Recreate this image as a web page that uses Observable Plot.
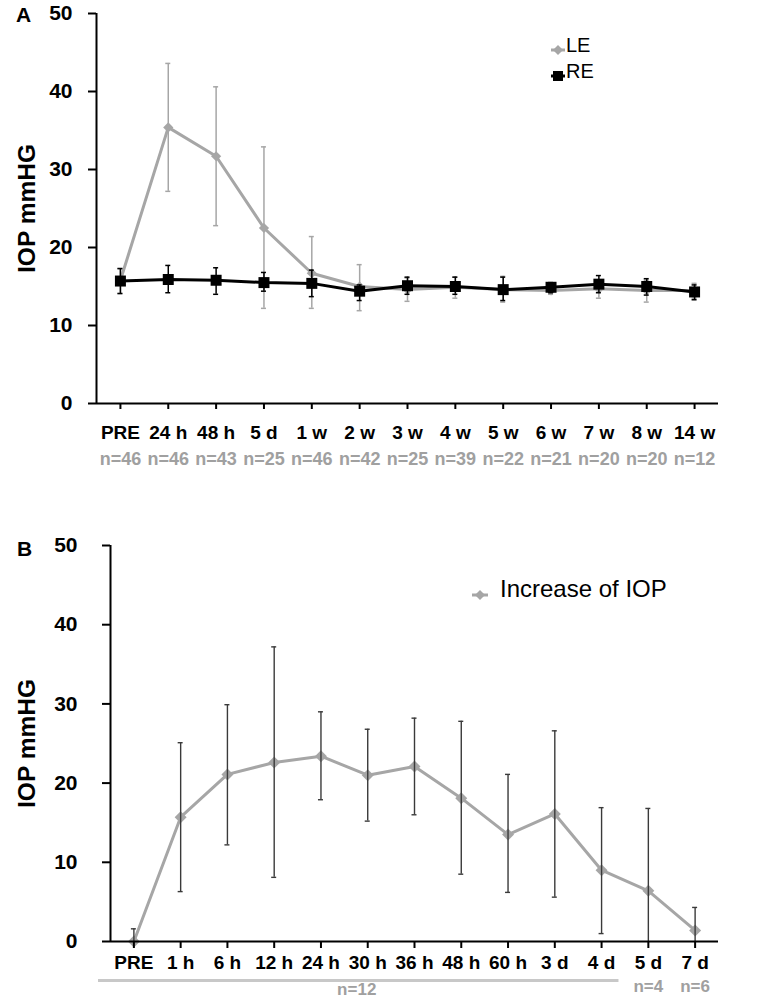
<!DOCTYPE html>
<html><head><meta charset="utf-8">
<script src="https://cdn.jsdelivr.net/npm/d3@7"></script>
<script src="https://cdn.jsdelivr.net/npm/@observablehq/plot@0.6"></script>
<style>
body{margin:0;background:#fff;font-family:"Liberation Sans",Arial,sans-serif;}
#wrap{position:relative;width:764px;height:1006px;overflow:hidden;}
.abs{position:absolute;}
.abs svg{overflow:visible;}
.letter{font-weight:bold;font-size:21px;line-height:1;color:#000;}
.leg{font-size:20px;line-height:1;color:#000;white-space:nowrap;}
</style></head><body><div id="wrap"></div>
<script>
// ---------- Panel A data ----------
const catsA = ["PRE","24 h","48 h","5 d","1 w","2 w","3 w","4 w","5 w","6 w","7 w","8 w","14 w"];
const nA    = ["n=46","n=46","n=43","n=25","n=46","n=42","n=25","n=39","n=22","n=21","n=20","n=20","n=12"];
const leMean = [15.8, 35.4, 31.7, 22.5, 16.7, 15.0, 14.6, 14.9, 14.6, 14.5, 14.7, 14.5, 14.5];
const leLow  = [14.1, 27.2, 22.8, 12.2, 12.2, 11.9, 13.1, 13.5, 13.0, 14.0, 13.5, 13.0, 13.5];
const leHigh = [17.3, 43.6, 40.6, 32.9, 21.4, 17.8, 16.1, 16.2, 16.3, 15.3, 15.8, 15.8, 15.4];
const reMean = [15.7, 15.9, 15.8, 15.5, 15.4, 14.4, 15.1, 15.0, 14.6, 14.9, 15.3, 15.0, 14.3];
const reLow  = [14.1, 14.2, 14.0, 14.4, 13.7, 13.2, 14.0, 14.0, 13.2, 14.2, 14.2, 13.9, 13.3];
const reHigh = [17.3, 17.7, 17.4, 16.8, 17.1, 15.2, 16.2, 16.2, 16.2, 15.5, 16.4, 16.0, 15.2];

// ---------- Panel B data ----------
const catsB = ["PRE","1 h","6 h","12 h","24 h","30 h","36 h","48 h","60 h","3 d","4 d","5 d","7 d"];
const incMean = [0, 15.7, 21.1, 22.6, 23.4, 21.0, 22.1, 18.1, 13.5, 16.1, 9.0, 6.4, 1.4];
const incLow  = [0, 6.3, 12.2, 8.1, 17.9, 15.2, 16.0, 8.5, 6.2, 5.6, 1.0, 0, 0];
const incHigh = [1.6, 25.1, 29.9, 37.2, 29.0, 26.8, 28.2, 27.8, 21.1, 26.6, 16.9, 16.8, 4.3];
const nGroupsB = [{from:"PRE", to:"4 d", label:"n=12", at:"30 h"}];
const nSingleB = [{cat:"5 d", label:"n=4"}, {cat:"7 d", label:"n=6"}];
const yTicks = [0,10,20,30,40,50];

const FONT = '"Liberation Sans", Arial, sans-serif';
const GRAY = "#a6a6a6";
const wrap = document.getElementById("wrap");

function place(node, left, top) {
  const d = document.createElement("div");
  d.className = "abs"; d.style.left = left + "px"; d.style.top = top + "px";
  d.appendChild(node); wrap.appendChild(d); return d;
}
function html(str, left, top, cls) {
  const d = document.createElement("div");
  d.className = "abs " + cls; d.style.left = left + "px"; d.style.top = top + "px";
  d.innerHTML = str; wrap.appendChild(d); return d;
}

// ---------- Panel A ----------
const dataA = catsA.map((c,i)=>({cat:c, n:nA[i], le:leMean[i], leLo:leLow[i], leHi:leHigh[i], re:reMean[i], reLo:reLow[i], reHi:reHigh[i]}));
const nMapA = new Map(catsA.map((c,i)=>[c,nA[i]]));
const mLA = 96, mRA = 46, WA = 764;
const bwA = (WA - mLA - mRA) / catsA.length;
const capInsA = (bwA - 5) / 2;

const plotA = Plot.plot({
  width: WA, height: 480, marginTop: 13, marginBottom: 77, marginLeft: mLA, marginRight: mRA,
  style: {fontFamily: FONT, color: "#000", background: "transparent", overflow: "visible"},
  x: {type: "band", domain: catsA, padding: 0, round: false, axis: null},
  y: {domain: [0, 50], axis: null},
  marks: [
    Plot.ruleX(dataA, {x: "cat", y1: "leLo", y2: "leHi", stroke: GRAY, strokeWidth: 1.5}),
    Plot.tickY(dataA, {x: "cat", y: "leLo", stroke: GRAY, strokeWidth: 1.5, insetLeft: capInsA, insetRight: capInsA}),
    Plot.tickY(dataA, {x: "cat", y: "leHi", stroke: GRAY, strokeWidth: 1.5, insetLeft: capInsA, insetRight: capInsA}),
    Plot.line(dataA, {x: "cat", y: "le", stroke: GRAY, strokeWidth: 3}),
    Plot.dot(dataA, {x: "cat", y: "le", symbol: "diamond2", r: 4.6, fill: GRAY, stroke: "none"}),
    Plot.ruleX(dataA, {x: "cat", y1: "reLo", y2: "reHi", stroke: "#000", strokeWidth: 1.5}),
    Plot.tickY(dataA, {x: "cat", y: "reLo", stroke: "#000", strokeWidth: 1.5, insetLeft: capInsA, insetRight: capInsA}),
    Plot.tickY(dataA, {x: "cat", y: "reHi", stroke: "#000", strokeWidth: 1.5, insetLeft: capInsA, insetRight: capInsA}),
    Plot.line(dataA, {x: "cat", y: "re", stroke: "#000", strokeWidth: 3}),
    Plot.dot(dataA, {x: "cat", y: "re", symbol: "square", r: 6.2, fill: "#000", stroke: "none"}),
    Plot.axisY({ticks: yTicks, tickSize: 8, tickPadding: 16, fontSize: 21, fontWeight: "bold", strokeWidth: 2, label: null}),
    Plot.axisX({tickSize: 6, tickPadding: 16, fontSize: 19, fontWeight: "bold", strokeWidth: 2, label: null}),
    Plot.axisX({tickSize: 0, tickPadding: 49, tickFormat: d => nMapA.get(d), fontSize: 18, fontWeight: "bold", fill: "#a0a0a0", label: null}),
    Plot.ruleY([0], {strokeWidth: 2}),
    Plot.ruleX([catsA[0]], {y1: 0, y2: 50, dx: -bwA / 2, strokeWidth: 2}),
    Plot.text(["IOP mmHG"], {frameAnchor: "left", textAnchor: "middle", lineAnchor: "middle", rotate: -90, dx: -69, fontSize: 24.5, fontWeight: "bold", fill: "#000"})
  ]
});
place(plotA, 0, 0);

// ---------- Panel B ----------
const dataB = catsB.map((c,i)=>({cat:c, m:incMean[i], lo:incLow[i], hi:incHigh[i]}));
const mLB = 110, mRB = 46, WB = 764;
const bwB = (WB - mLB - mRB) / catsB.length;
const capInsB = (bwB - 5) / 2;
const ERR = "#3a3a3a";

const plotB = Plot.plot({
  width: WB, height: 516, marginTop: 55, marginBottom: 65, marginLeft: mLB, marginRight: mRB,
  style: {fontFamily: FONT, color: "#000", background: "transparent", overflow: "visible"},
  x: {type: "band", domain: catsB, padding: 0, round: false, axis: null},
  y: {domain: [0, 50], axis: null},
  marks: [
    Plot.line(dataB, {x: "cat", y: "m", stroke: GRAY, strokeWidth: 3}),
    Plot.dot(dataB, {x: "cat", y: "m", symbol: "diamond2", r: 5.4, fill: GRAY, stroke: "none"}),
    Plot.ruleX(dataB, {x: "cat", y1: "lo", y2: "hi", stroke: ERR, strokeWidth: 1.4}),
    Plot.tickY(dataB.filter(d => d.lo > 0), {x: "cat", y: "lo", stroke: ERR, strokeWidth: 1.4, insetLeft: capInsB, insetRight: capInsB}),
    Plot.tickY(dataB, {x: "cat", y: "hi", stroke: ERR, strokeWidth: 1.4, insetLeft: capInsB, insetRight: capInsB}),
    Plot.axisY({ticks: yTicks, tickSize: 8, tickPadding: 25, fontSize: 21, fontWeight: "bold", strokeWidth: 2, label: null}),
    Plot.axisX({tickSize: 7, tickPadding: 7, fontSize: 19, fontWeight: "bold", strokeWidth: 2, label: null}),
    Plot.ruleY([0], {strokeWidth: 2}),
    Plot.ruleX([catsB[0]], {y1: 0, y2: 50, dx: -bwB / 2, strokeWidth: 2}),
    Plot.ruleY(nGroupsB, {y: () => 0, x1: "from", x2: "to", dy: 39, insetLeft: -12, insetRight: 6, stroke: "#c8c8c8", strokeWidth: 3}),
    Plot.text(nGroupsB, {x: "at", text: "label", frameAnchor: "bottom", dx: -11, dy: 53, fontSize: 17, fontWeight: "bold", fill: "#a0a0a0"}),
    Plot.text(nSingleB, {x: "cat", text: "label", frameAnchor: "bottom", dy: 50, fontSize: 17, fontWeight: "bold", fill: "#a0a0a0"}),
    Plot.text(["IOP mmHG"], {frameAnchor: "left", textAnchor: "middle", lineAnchor: "middle", rotate: -90, dx: -83, fontSize: 24.5, fontWeight: "bold", fill: "#000"})
  ]
});
place(plotB, 0, 490);

// ---------- Panel letters ----------
html("A", 16, 4, "letter");
html("B", 17, 538, "letter");

// ---------- Legends ----------
html('<svg width="16" height="12" style="vertical-align:middle"><line x1="1" y1="6" x2="15" y2="6" stroke="'+GRAY+'" stroke-width="3"/><path d="M8,1 L13,6 L8,11 L3,6Z" fill="'+GRAY+'"/></svg>', 550, 38, "leg");
html("LE", 566, 35, "leg");
html('<svg width="16" height="12" style="vertical-align:middle"><line x1="1" y1="6" x2="15" y2="6" stroke="#000" stroke-width="3"/><rect x="3" y="1" width="10" height="10" fill="#000"/></svg>', 550, 64, "leg");
html("RE", 566, 61, "leg");
html('<svg width="18" height="12" style="vertical-align:middle"><line x1="1" y1="6" x2="17" y2="6" stroke="'+GRAY+'" stroke-width="3"/><path d="M9,1 L14,6 L9,11 L4,6Z" fill="'+GRAY+'"/></svg>', 471, 583, "leg");
html('<span style="font-size:24px">Increase of IOP</span>', 500, 577, "leg");
</script></body></html>
